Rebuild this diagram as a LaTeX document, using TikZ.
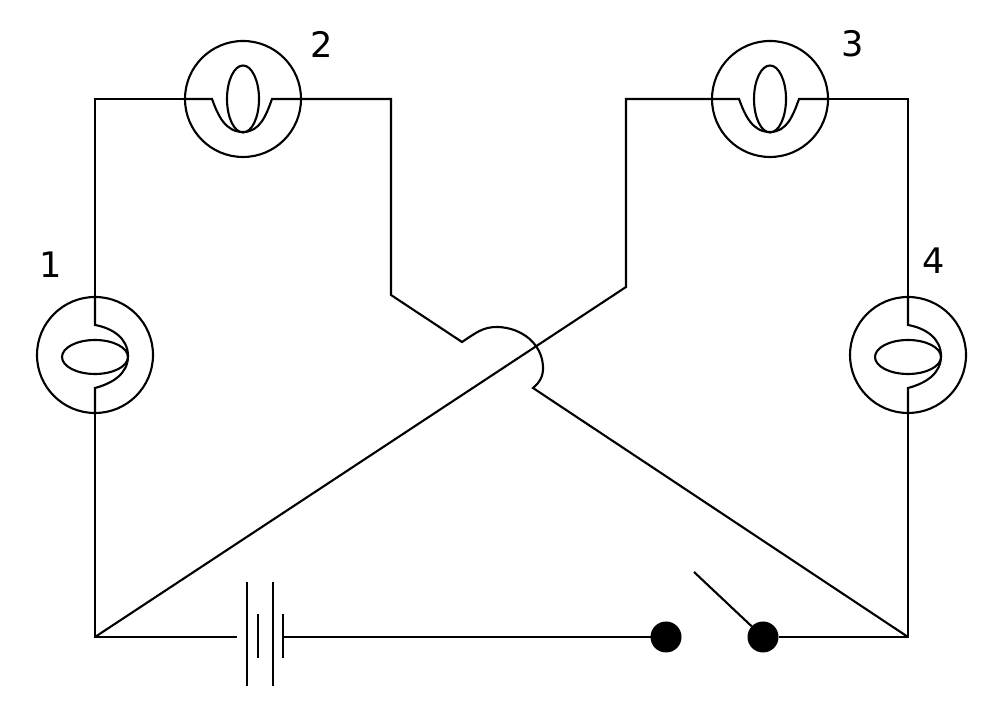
\documentclass[tikz,border=0pt]{standalone}
\usepackage{fontspec}
\setmainfont{DejaVu Sans}
\usetikzlibrary{positioning, calc}

\begin{document}
\begin{tikzpicture}[line width=0.6pt, line join=miter]
        \tikzstyle{lamp}=[
            circle,
            draw,
            minimum size=1.16cm, % uniform size
            inner sep=0pt,
            outer sep=0pt
        ]
        \tikzstyle{terminal}=[
            circle,
            fill=black,
            minimum size=0.31cm,
            inner sep=0pt,
            outer sep=0pt
        ]
        \tikzstyle{lbl}=[inner sep=0pt, font=\fontsize{10}{12}\selectfont]
        \tikzstyle{longplate}=[minimum width=0pt, minimum height=1.02cm, inner sep=0pt]
        \tikzstyle{shortplate}=[minimum width=0pt, minimum height=0.41cm, inner sep=0pt]

        \useasboundingbox (0,0) rectangle (10,7.08);

        % corners of the wiring
        \coordinate (topleft) at (0.95,6.09);
        \coordinate (topinner) at (3.91,6.09);
        \coordinate (kneeleft) at (3.91,4.13);
        \coordinate (hopstart) at (4.62,3.66);
        \coordinate (hoptop) at (4.98,3.81);
        \coordinate (hopright) at (5.43,3.41);
        \coordinate (hopend) at (5.33,3.20);
        \coordinate (kneeright) at (6.26,4.21);
        \coordinate (topouter) at (6.26,6.09);
        \coordinate (topright) at (9.08,6.09);
        \coordinate (botleft) at (0.95,0.71);
        \coordinate (botright) at (9.08,0.71);
        \coordinate (armend) at (6.94,1.36);

        \node[lamp] (lampone) at (0.95,3.53) {};
        \node[lamp] (lamptwo) at (2.43,6.09) {};
        \node[lamp] (lampthree) at (7.70,6.09) {};
        \node[lamp] (lampfour) at (9.08,3.53) {};

        \node[lbl] (labelone) at (0.51,4.43) {1};
        \node[lbl] (labeltwo) at (3.22,6.64) {2};
        \node[lbl] (labelthree) at (8.53,6.64) {3};
        \node[lbl] (labelfour) at (9.34,4.47) {4};

        % battery plates
        \node[longplate] (plateone) at (2.47,0.74) {};
        \node[shortplate] (platetwo) at (2.58,0.72) {};
        \node[longplate] (platethree) at (2.73,0.74) {};
        \node[shortplate] (platefour) at (2.83,0.72) {};
        \coordinate (batin) at (2.37,0.71);
        \coordinate (batout) at (2.83,0.71);

        \node[terminal] (switchleft) at (6.66,0.71) {};
        \node[terminal] (switchright) at (7.63,0.71) {};

        % filaments
        \foreach \l in {lamptwo, lampthree} {
            \draw (\l.center) ellipse (0.16 and 0.335);
            \draw (\l.west) -- ++(0.27,0) to[out=-70,in=180] ($(\l.center)+(0,-0.33)$)
                to[out=0,in=-110] ($(\l.east)+(-0.29,0)$) -- (\l.east);
        }
        \foreach \l in {lampone, lampfour} {
            \draw ($(\l.center)+(0,-0.02)$) ellipse (0.33 and 0.17);
            \draw (\l.north) -- ++(0,-0.28) to[out=-10,in=90] ($(\l.center)+(0.33,-0.01)$)
                to[out=-90,in=15] ($(\l.south)+(0,0.25)$) -- (\l.south);
        }

        % wires
        \draw (lampone.north) -- (topleft) -- (lamptwo.west);
        \draw (lamptwo.east) -- (topinner) -- (kneeleft) -- (hopstart)
            to[out=33,in=178] (hoptop) to[out=-2,in=92] (hopright)
            to[out=-88,in=40] (hopend) -- (botright);
        \draw (botleft) -- (kneeright) -- (topouter) -- (lampthree.west);
        \draw (lampthree.east) -- (topright) -- (lampfour.north);
        \draw (lampfour.south) -- (botright) -- (switchright);
        \draw (lampone.south) -- (botleft) -- (batin);
        \draw (batout) -- (switchleft);
        \draw (armend) -- (switchright);

        \draw (plateone.north) -- (plateone.south);
        \draw (platetwo.north) -- (platetwo.south);
        \draw (platethree.north) -- (platethree.south);
        \draw (platefour.north) -- (platefour.south);

    \end{tikzpicture}
\end{document}
